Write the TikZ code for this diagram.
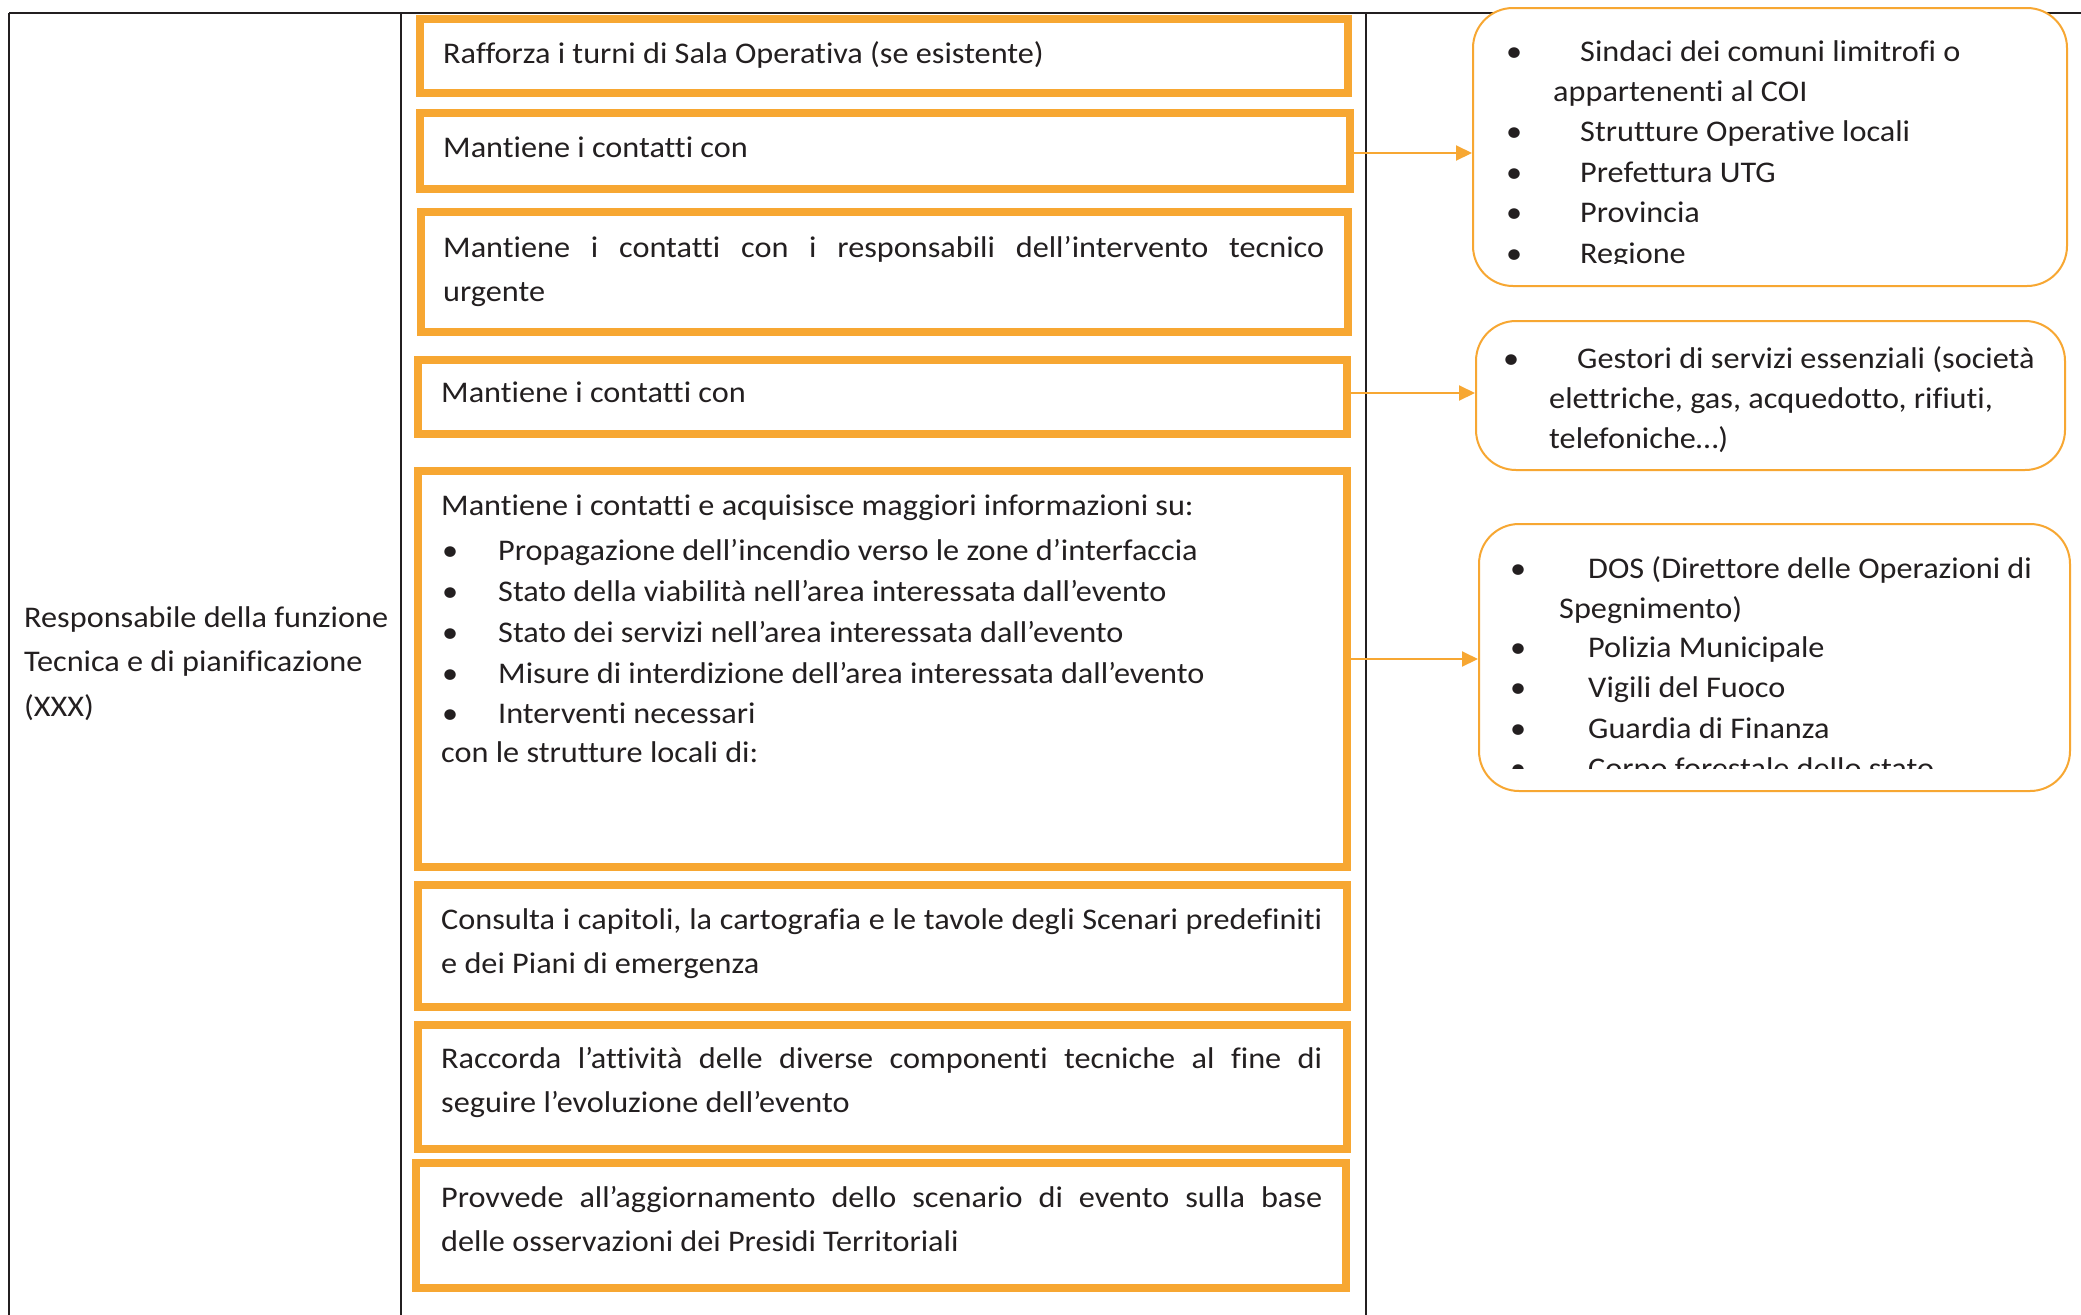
\documentclass[tikz,border=0pt]{standalone}
\usepackage{fontspec}
\setmainfont{Carlito}[FakeStretch=1.075, Ligatures=NoCommon]
\usetikzlibrary{arrows.meta}
\definecolor{org}{RGB}{247,167,50}
\definecolor{ink}{RGB}{35,31,32}
\tikzset{
  obox/.style={draw=org, line width=8pt, fill=white, inner sep=0pt},
  rbox/.style={draw=org, line width=2pt, fill=white, rounded corners=40pt, inner sep=0pt},
  tx/.style={anchor=base west, inner sep=0pt, text=ink, font=\fontsize{30}{44}\selectfont},
  arr/.style={draw=org, line width=2pt, -{Triangle[length=16pt,width=15pt]}},
  tline/.style={draw=ink, line width=2.5pt}
}
\newcommand{\jline}[1]{\makebox[881pt][s]{#1}}
\begin{document}
\begin{tikzpicture}[x=1pt,y=-1pt]
\useasboundingbox[fill=white] (0,0) rectangle (2081,1315);
% table
\coordinate (tl) at (9,13);
\coordinate (tr) at (2081,13);
\coordinate (bl) at (9,1315);
\coordinate (c1t) at (401,13);
\coordinate (c1b) at (401,1315);
\coordinate (c2t) at (1366,13);
\coordinate (c2b) at (1366,1315);
\draw[tline] (tl) -- (tr);
\draw[tline] (tl) -- (bl);
\draw[tline] (c1t) -- (c1b);
\draw[tline] (c2t) -- (c2b);
% left cell text
\node[tx] (lt1) at (24,627) {Responsabile della funzione};
\node[tx] (lt2) at (24,671) {Tecnica e di pianificazione};
\node[tx] (lt3) at (24,716) {(XXX)};
% orange boxes
\node[obox, minimum width=928pt, minimum height=74pt] (b1) at (884,56) {};
\node[obox, minimum width=930pt, minimum height=76pt] (b2) at (885,151) {};
\node[obox, minimum width=927pt, minimum height=120pt] (b3) at (884.5,272) {};
\node[obox, minimum width=929pt, minimum height=74pt] (b4) at (882.5,397) {};
\node[obox, minimum width=929pt, minimum height=396pt] (b5) at (882.5,669) {};
\node[obox, minimum width=929pt, minimum height=122pt] (b6) at (882.5,946) {};
\node[obox, minimum width=929pt, minimum height=124pt] (b7) at (882.5,1087) {};
\node[obox, minimum width=930pt, minimum height=125pt] (b8) at (881,1225.5) {};
% box texts
\node[tx] (t1) at (443,63) {Rafforza i turni di Sala Operativa (se esistente)};
\node[tx] (t2) at (443,157) {Mantiene i contatti con};
\node[tx] (t3a) at (443,257) {\jline{Mantiene i contatti con i responsabili dell’intervento tecnico}};
\node[tx] (t3b) at (443,301) {urgente};
\node[tx] (t4) at (441,402) {Mantiene i contatti con};
\node[tx] (t5) at (441,515) {Mantiene i contatti e acquisisce maggiori informazioni su:};
\node[tx] (t5a0) at (442,560) {•};
\node[tx] (t5a) at (498,560) {Propagazione dell’incendio verso le zone d’interfaccia};
\node[tx] (t5b0) at (442,601) {•};
\node[tx] (t5b) at (498,601) {Stato della viabilità nell’area interessata dall’evento};
\node[tx] (t5c0) at (442,642) {•};
\node[tx] (t5c) at (498,642) {Stato dei servizi nell’area interessata dall’evento};
\node[tx] (t5d0) at (442,683) {•};
\node[tx] (t5d) at (498,683) {Misure di interdizione dell’area interessata dall’evento};
\node[tx] (t5e0) at (442,723) {•};
\node[tx] (t5e) at (498,723) {Interventi necessari};
\node[tx] (t5f) at (441,762) {con le strutture locali di:};
\node[tx] (t6a) at (441,929) {\jline{Consulta i capitoli, la cartografia e le tavole degli Scenari predefiniti}};
\node[tx] (t6b) at (441,973) {e dei Piani di emergenza};
\node[tx] (t7a) at (441,1068) {\jline{Raccorda l’attività delle diverse componenti tecniche al fine di}};
\node[tx] (t7b) at (441,1112) {seguire l’evoluzione dell’evento};
\node[tx] (t8a) at (441,1207) {\jline{Provvede all’aggiornamento dello scenario di evento sulla base}};
\node[tx] (t8b) at (441,1251) {delle osservazioni dei Presidi Territoriali};
% rounded boxes
\node[rbox, minimum width=594pt, minimum height=278pt] (r1) at (1770,147) {};
\node[rbox, minimum width=589pt, minimum height=149pt] (r2) at (1770.5,395.5) {};
\node[rbox, minimum width=591pt, minimum height=267pt] (r3) at (1774.5,657.5) {};
\begin{scope}
\clip (1472,7) rectangle (2068,263);
\node[tx] (s1a0) at (1506,61) {•};
\node[tx] (s1a) at (1580,61) {Sindaci dei comuni limitrofi o};
\node[tx] (s1b) at (1553,101) {appartenenti al COI};
\node[tx] (s1c0) at (1506,141) {•};
\node[tx] (s1c) at (1580,141) {Strutture Operative locali};
\node[tx] (s1d0) at (1506,182) {•};
\node[tx] (s1d) at (1580,182) {Prefettura UTG};
\node[tx] (s1e0) at (1506,222) {•};
\node[tx] (s1e) at (1580,222) {Provincia};
\node[tx] (s1f0) at (1506,263) {•};
\node[tx] (s1f) at (1580,263) {Regione};
\end{scope}
\node[tx] (s2a0) at (1503,368) {•};
\node[tx] (s2a) at (1577,368) {Gestori di servizi essenziali (società};
\node[tx] (s2b) at (1549,408) {elettriche, gas, acquedotto, rifiuti,};
\node[tx] (s2c) at (1549,448) {telefoniche…)};
\begin{scope}
\clip (1478,523) rectangle (2071,768);
\node[tx] (s3a0) at (1510,578) {•};
\node[tx] (s3a) at (1588,578) {DOS (Direttore delle Operazioni di};
\node[tx] (s3b) at (1559,618) {Spegnimento)};
\node[tx] (s3c0) at (1510,657) {•};
\node[tx] (s3c) at (1588,657) {Polizia Municipale};
\node[tx] (s3d0) at (1510,697) {•};
\node[tx] (s3d) at (1588,697) {Vigili del Fuoco};
\node[tx] (s3e0) at (1510,738) {•};
\node[tx] (s3e) at (1588,738) {Guardia di Finanza};
\node[tx] (s3f0) at (1510,778) {•};
\node[tx] (s3f) at (1588,778) {Corpo forestale dello stato};
\end{scope}
% arrows
\draw[arr] ([yshift=-2pt]b2.east) -- ([yshift=-2pt]b2.east -| r1.west);
\draw[arr] ([yshift=4pt]b4.east) -- ([yshift=4pt]b4.east -| r2.west);
\draw[arr] ([yshift=10pt]b5.east) -- ([yshift=10pt]b5.east -| r3.west);
\end{tikzpicture}
\end{document}
